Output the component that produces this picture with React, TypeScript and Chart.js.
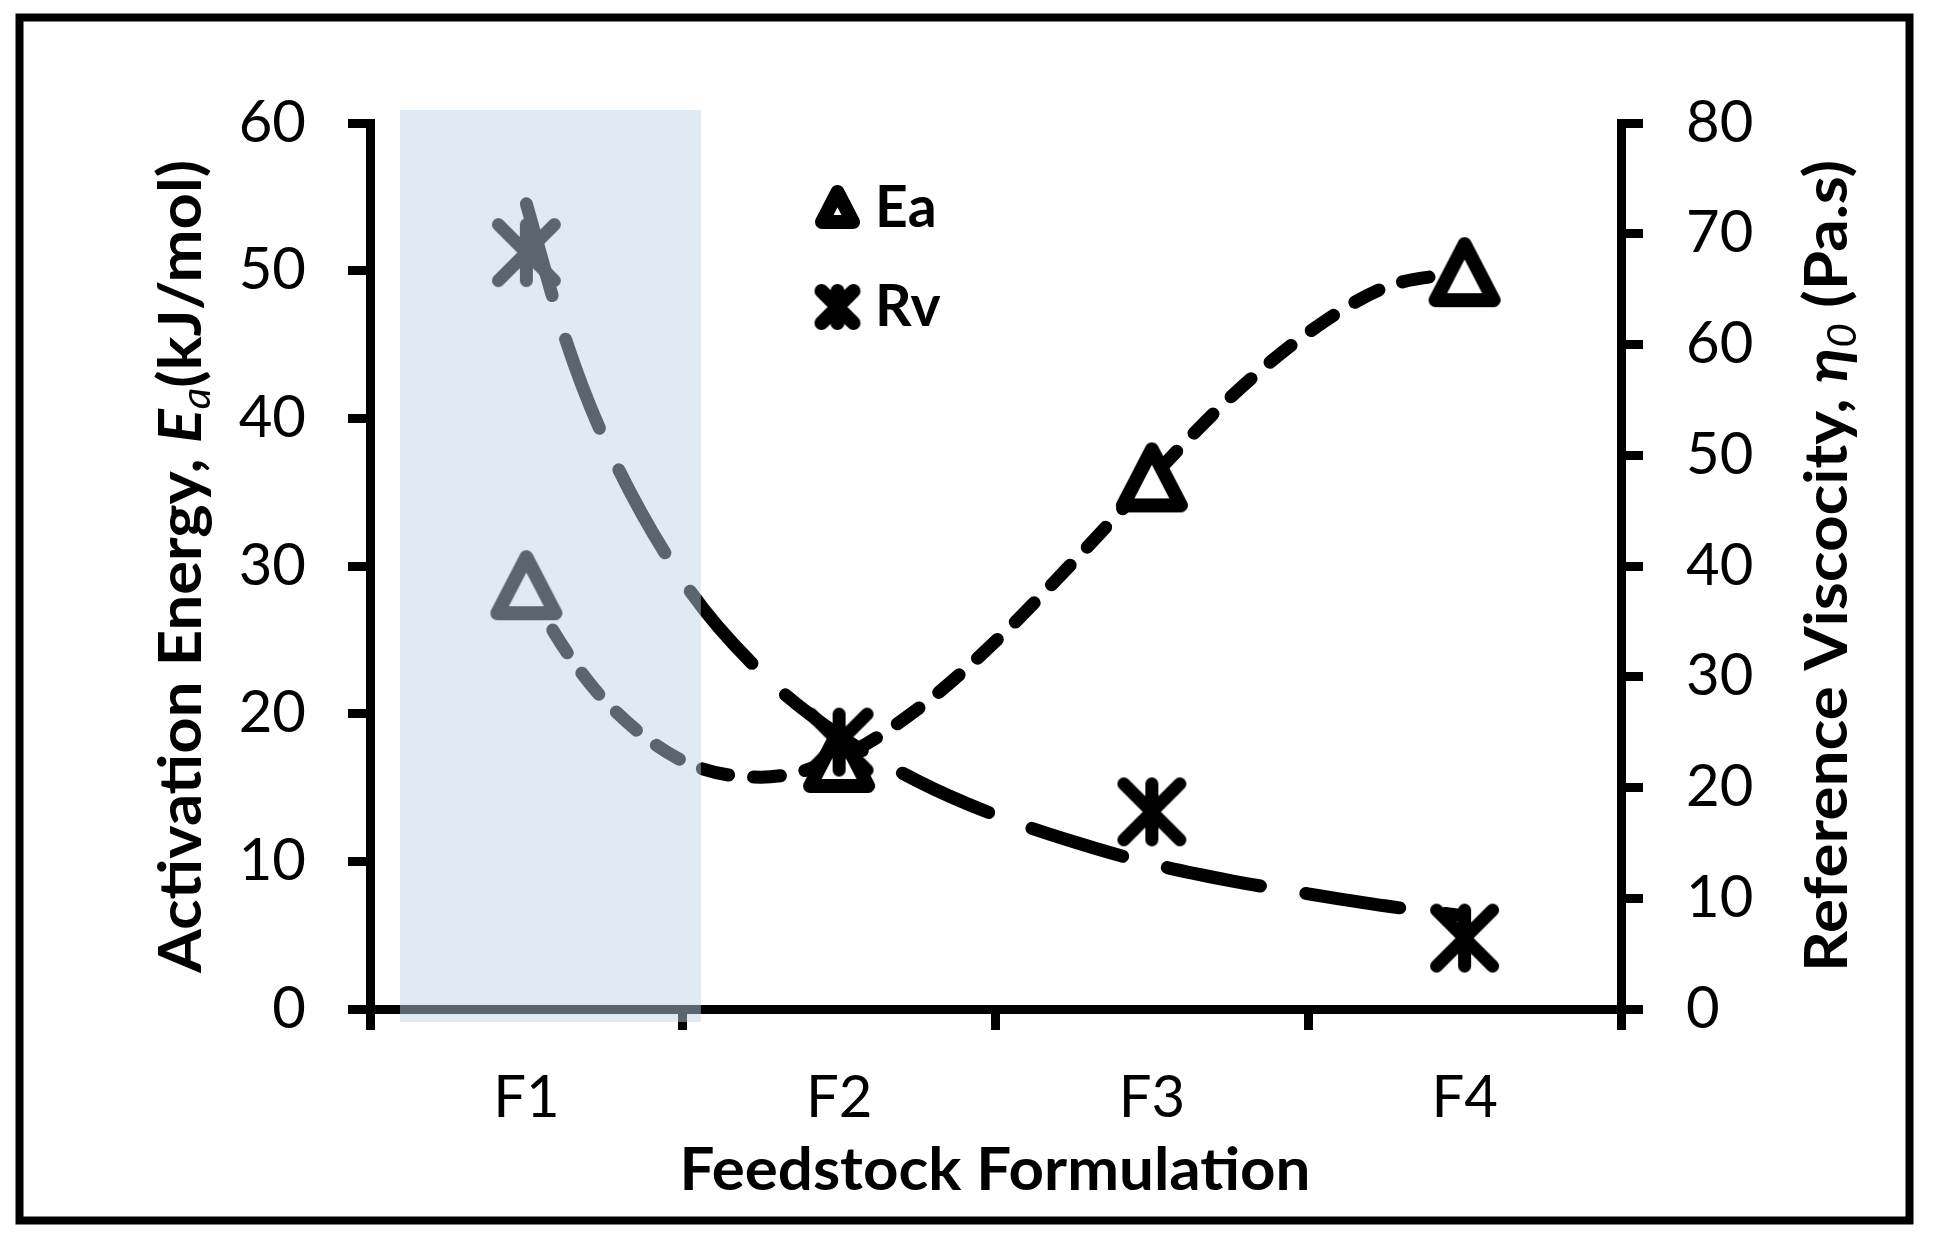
import React, { useEffect, useRef } from 'react';
import { Chart, registerables } from 'chart.js';

Chart.register(...registerables);

// ---- data ----
const categories = ['F1', 'F2', 'F3', 'F4'];
const eaValues = [28.7, 17.0, 36.0, 49.9]; // Activation energy, kJ/mol (left axis)
const rvValues = [68.3, 24.1, 17.8, 6.4]; // Reference viscosity, Pa.s (right axis)

// trendline curves (x = formulation position 1..4)
const trendX = [1, 1.125, 1.25, 1.5, 1.75, 2, 2.25, 2.5, 2.75, 3, 3.25, 3.5, 3.75, 4];
const eaTrend = [28.7, 24.3, 20.9, 16.8, 15.7, 17.0, 20.3, 24.9, 30.3, 36.0, 41.4, 45.8, 48.9, 49.9];
const rvTrend = [72.7, 60.5, 51.4, 38.7, 30.4, 24.7, 20.6, 17.5, 15.1, 13.1, 11.6, 10.4, 9.3, 8.4];

const eaAxis = { min: 0, max: 60, step: 10 };
const rvAxis = { min: 0, max: 80, step: 10 };

// shaded highlight band (in axis units: x position, left-axis value)
const highlightX = [0.596, 1.558];
const highlightY = [-0.88, 60.88];

const legendItems = ['Ea', 'Rv'];

const FONT = 'Lato, "Open Sans", "Noto Sans", sans-serif';
const GREEK_FONT = 'Lato, "Noto Sans", "DejaVu Sans", sans-serif';

function makeTriangle(w: number, h: number, lw: number): HTMLCanvasElement {
  const pad = lw / 2 + 2;
  const c = document.createElement('canvas');
  c.width = Math.ceil(w + 2 * pad);
  c.height = Math.ceil(h + 2 * pad);
  const ctx = c.getContext('2d')!;
  const cx = c.width / 2;
  const cy = c.height / 2;
  ctx.beginPath();
  ctx.moveTo(cx, cy - h / 2);
  ctx.lineTo(cx + w / 2, cy + h / 2);
  ctx.lineTo(cx - w / 2, cy + h / 2);
  ctx.closePath();
  ctx.fillStyle = '#ffffff';
  ctx.fill();
  ctx.lineJoin = 'round';
  ctx.lineWidth = lw;
  ctx.strokeStyle = '#000000';
  ctx.stroke();
  return c;
}

function makeStar(r: number, lw: number): HTMLCanvasElement {
  const pad = lw / 2 + 2;
  const c = document.createElement('canvas');
  c.width = Math.ceil(2 * r + 2 * pad);
  c.height = Math.ceil(2 * r + 2 * pad);
  const ctx = c.getContext('2d')!;
  const cx = c.width / 2;
  const cy = c.height / 2;
  ctx.lineCap = 'round';
  ctx.lineWidth = lw;
  ctx.strokeStyle = '#000000';
  ctx.beginPath();
  ctx.moveTo(cx - r, cy - r);
  ctx.lineTo(cx + r, cy + r);
  ctx.moveTo(cx + r, cy - r);
  ctx.lineTo(cx - r, cy + r);
  ctx.moveTo(cx, cy - r);
  ctx.lineTo(cx, cy + r);
  ctx.stroke();
  return c;
}

type Seg = { text: string; font: string; dy?: number };

function drawRich(
  ctx: CanvasRenderingContext2D,
  segs: Seg[],
  cx: number,
  cy: number,
  rotate: boolean,
  targetLen: number
) {
  let total = 0;
  const widths: number[] = [];
  for (const s of segs) {
    ctx.font = s.font;
    const w = ctx.measureText(s.text).width;
    widths.push(w);
    total += w;
  }
  const sx = targetLen / total;
  ctx.save();
  ctx.translate(cx, cy);
  if (rotate) ctx.rotate(-Math.PI / 2);
  ctx.scale(sx, 1);
  ctx.fillStyle = '#000';
  ctx.textBaseline = 'alphabetic';
  ctx.textAlign = 'left';
  let x = -total / 2;
  segs.forEach((s, i) => {
    ctx.font = s.font;
    ctx.fillText(s.text, x, s.dy || 0);
    x += widths[i];
  });
  ctx.restore();
}

export default function App() {
  const ref = useRef<HTMLCanvasElement>(null);

  useEffect(() => {
    document.body.style.margin = '0';
    document.body.style.background = '#ffffff';
    const canvas = ref.current;
    if (!canvas) return;

    const triMarker = makeTriangle(58, 56, 14);
    const starMarker = makeStar(28, 13);
    const triLegend = makeTriangle(31, 30, 14);
    const starLegend = makeStar(16, 14);

    const decor = {
      id: 'decor',
      afterDraw(chart: any) {
        const ctx: CanvasRenderingContext2D = chart.ctx;
        const xl = chart.scales.xl;
        const y = chart.scales.y;

        // outer frame
        ctx.save();
        ctx.strokeStyle = '#000';
        ctx.lineWidth = 8;
        ctx.strokeRect(19.5, 17.5, 1890, 1203);
        ctx.restore();

        // axis titles
        const B = `bold 60px ${FONT}`;
        drawRich(
          ctx,
          [
            { text: 'Activation Energy, ', font: B },
            { text: 'E', font: `italic bold 60px ${FONT}` },
            { text: 'a', font: `italic 40px ${FONT}`, dy: 9 },
            { text: '(kJ/mol)', font: B },
          ],
          201,
          566.5,
          true,
          813
        );
        drawRich(
          ctx,
          [
            { text: 'Reference Viscocity, ', font: B },
            { text: 'η', font: `italic bold 60px ${GREEK_FONT}` },
            { text: '0', font: `italic 40px ${FONT}`, dy: 9 },
            { text: ' (Pa.s)', font: B },
          ],
          1847,
          566,
          true,
          812
        );
        drawRich(ctx, [{ text: 'Feedstock Formulation', font: B }], 995, 1190, false, 631);

        // legend
        const markers = [triLegend, starLegend];
        legendItems.forEach((label, i) => {
          const m = markers[i];
          const my = 207 + i * 100;
          ctx.drawImage(m, 837.5 - m.width / 2, my - m.height / 2);
          ctx.save();
          ctx.font = `bold 57px ${FONT}`;
          ctx.fillStyle = '#000';
          ctx.textBaseline = 'alphabetic';
          ctx.fillText(label, 875, 227 + i * 99);
          ctx.restore();
        });

        // translucent highlight band (drawn on top of everything)
        const x0 = xl.getPixelForValue(highlightX[0]);
        const x1 = xl.getPixelForValue(highlightX[1]);
        const y0 = y.getPixelForValue(highlightY[1]);
        const y1 = y.getPixelForValue(highlightY[0]);
        ctx.save();
        ctx.fillStyle = 'rgba(189, 211, 233, 0.48)';
        ctx.fillRect(x0, y0, x1 - x0, y1 - y0);
        ctx.restore();
      },
    };

    const tickFont = { family: FONT, size: 58, weight: 'normal' as const };

    const chart = new Chart(canvas, {
      type: 'line',
      data: {
        labels: categories,
        datasets: [
          {
            label: 'Ea',
            data: eaValues,
            xAxisID: 'x',
            yAxisID: 'y',
            showLine: false,
            pointStyle: triMarker as any,
            pointRadius: 30,
            order: 1,
          },
          {
            label: 'Rv',
            data: rvValues,
            xAxisID: 'x',
            yAxisID: 'y1',
            showLine: false,
            pointStyle: starMarker as any,
            pointRadius: 30,
            order: 0,
          },
          {
            label: 'Ea trend',
            data: trendX.map((x, i) => ({ x, y: eaTrend[i] })) as any,
            xAxisID: 'xl',
            yAxisID: 'y',
            borderColor: '#000',
            borderWidth: 13,
            borderDash: [27, 25],
            borderCapStyle: 'round',
            pointRadius: 0,
            cubicInterpolationMode: 'monotone',
            fill: false,
            order: 5,
          },
          {
            label: 'Rv trend',
            data: trendX.map((x, i) => ({ x, y: rvTrend[i] })) as any,
            xAxisID: 'xl',
            yAxisID: 'y1',
            borderColor: '#000',
            borderWidth: 13,
            borderDash: [95, 46],
            borderCapStyle: 'round',
            pointRadius: 0,
            cubicInterpolationMode: 'monotone',
            fill: false,
            order: 4,
          },
        ],
      },
      options: {
        animation: false,
        responsive: false,
        devicePixelRatio: 1,
        events: [],
        layout: { padding: { top: 123, left: 0, right: 0, bottom: 0 } },
        plugins: {
          legend: { display: false },
          tooltip: { enabled: false },
          title: { display: false },
        },
        scales: {
          x: {
            type: 'category',
            position: 'bottom',
            offset: true,
            grid: {
              offset: true,
              drawOnChartArea: false,
              drawTicks: true,
              tickLength: 21,
              lineWidth: 9,
              tickWidth: 9,
              color: '#000',
              tickColor: '#000',
            },
            border: { display: true, width: 9, color: '#000' },
            ticks: {
              font: tickFont,
              color: '#000',
              padding: 33,
              maxRotation: 0,
              autoSkip: false,
            },
            afterFit: (s: any) => {
              s.height = 234;
            },
          },
          xl: {
            type: 'linear',
            position: 'bottom',
            display: false,
            min: 0.5,
            max: 4.5,
          },
          y: {
            type: 'linear',
            position: 'left',
            min: eaAxis.min,
            max: eaAxis.max,
            ticks: { stepSize: eaAxis.step, font: tickFont, color: '#000', padding: 42 },
            grid: {
              drawOnChartArea: false,
              drawTicks: true,
              tickLength: 22,
              lineWidth: 9,
              tickWidth: 9,
              color: '#000',
              tickColor: '#000',
            },
            border: { display: true, width: 9, color: '#000' },
            afterFit: (s: any) => {
              s.width = 370;
            },
          },
          y1: {
            type: 'linear',
            position: 'right',
            min: rvAxis.min,
            max: rvAxis.max,
            ticks: { stepSize: rvAxis.step, font: tickFont, color: '#000', padding: 43 },
            grid: {
              drawOnChartArea: false,
              drawTicks: true,
              tickLength: 22,
              lineWidth: 9,
              tickWidth: 9,
              color: '#000',
              tickColor: '#000',
            },
            border: { display: true, width: 9, color: '#000' },
            afterFit: (s: any) => {
              s.width = 312;
            },
          },
        },
      } as any,
      plugins: [decor],
    });

    return () => {
      chart.destroy();
    };
  }, []);

  return (
    <div style={{ width: 1933, height: 1243, background: '#ffffff' }}>
      <canvas ref={ref} width={1933} height={1243} style={{ display: 'block', width: 1933, height: 1243 }} />
    </div>
  );
}
